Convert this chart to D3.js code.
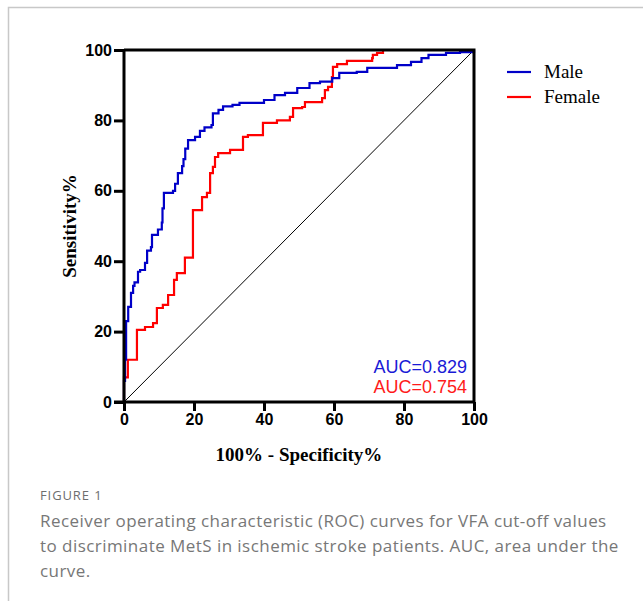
<!DOCTYPE html>
<html>
<head>
<meta charset="utf-8">
<script src="https://cdn.jsdelivr.net/npm/d3@7"></script>
<style>
  body { margin: 0; background: #fff; }
</style>
</head>
<body>
<script>
// ROC points: [1 - specificity %, sensitivity %]
const maleFpr = [0, 0, 0.3, 0.6, 1.2, 2, 2.6, 3, 4, 4.6, 6, 6.6, 7.7, 8, 9.7, 10.8, 11, 11.4, 14, 14.6, 15.4, 16.6, 17, 17.5, 18.3, 20.3, 21.7, 23, 25, 25.4, 27, 28.3, 31, 33, 40, 43, 46, 49.5, 53, 56, 59.5, 61.5, 66.5, 69.5, 78, 82, 85, 87, 92, 96, 100];
const maleTpr = [0, 6, 12, 23, 27, 31, 33, 34, 37, 37.5, 39.5, 43, 44, 47.5, 49, 51, 55, 59.4, 60, 62, 65, 67, 69, 72, 74.4, 75.3, 77, 78, 78.7, 82, 83, 84, 84.4, 85, 85.8, 87.2, 87.8, 89.2, 90.6, 91, 92, 93.5, 93.8, 94.9, 95.7, 96.6, 97.7, 98.6, 99.2, 99.4, 100];
const femaleFpr = [0, 0, 1.1, 3.7, 6, 8.3, 9.4, 11.1, 12.6, 14.3, 15.1, 17.4, 19.7, 22.3, 23.7, 24.6, 25.4, 26, 26.9, 30.3, 34, 35.4, 39.7, 43.7, 47.4, 48.3, 50.9, 51.7, 56.6, 57.4, 58.3, 59.4, 59.7, 60.9, 63.7, 70.9, 71.1, 72.3, 74, 100];
const femaleTpr = [0, 7, 12, 20.5, 21.3, 22.4, 26.7, 27.6, 30.4, 34.7, 36.6, 41, 54.5, 58.2, 59.4, 65, 66.8, 69.6, 70.7, 71.6, 75.3, 75.8, 79.3, 80, 81, 83.5, 83.8, 85.2, 86.3, 88.6, 89.5, 92.3, 95.2, 96, 96.9, 97.7, 98.6, 99.2, 100, 100];

const seriesNames = ["Male", "Female"];
const seriesColors = ["#0000c8", "#ff0000"];
const aucLabels = ["AUC=0.829", "AUC=0.754"];
const aucColors = ["#1a1ad6", "#ff1a1a"];
const ticks = [0, 20, 40, 60, 80, 100];

const captionTitle = "FIGURE 1";
const captionLines = [
  "Receiver operating characteristic (ROC) curves for VFA cut-off values",
  "to discriminate MetS in ischemic stroke patients. AUC, area under the",
  "curve."
];

const W = 643, H = 601;
const svg = d3.select("body").append("svg")
  .attr("width", W)
  .attr("height", H);

// page frame
svg.append("path")
  .attr("d", `M8.5,${H} V7.5 H${W}`)
  .attr("fill", "none")
  .attr("stroke", "#c8c8c8")
  .attr("stroke-width", 1.5);

const x = d3.scaleLinear().domain([0, 100]).range([124, 474]);
const y = d3.scaleLinear().domain([0, 100]).range([402, 50]);

// chance line
svg.append("line")
  .attr("x1", x(0)).attr("y1", y(0))
  .attr("x2", x(100)).attr("y2", y(100))
  .attr("stroke", "#000")
  .attr("stroke-width", 1);

// curves
const line = d3.line()
  .x(d => x(d[0]))
  .y(d => y(d[1]))
  .curve(d3.curveStepAfter);

const series = [
  d3.zip(maleFpr, maleTpr),
  d3.zip(femaleFpr, femaleTpr)
];

// draw female first so male sits on top near the origin
[1, 0].forEach(i => {
  svg.append("path")
    .datum(series[i])
    .attr("d", line)
    .attr("fill", "none")
    .attr("stroke", seriesColors[i])
    .attr("stroke-width", 2.2)
    .attr("stroke-linejoin", "miter");
});

// frame of plot (top and right)
svg.append("path")
  .attr("d", `M${x(0)},${y(100)} H${x(100)} V${y(0)}`)
  .attr("fill", "none")
  .attr("stroke", "#000")
  .attr("stroke-width", 3);

// axes
const xAxis = svg.append("g")
  .attr("transform", `translate(0,${y(0)})`)
  .call(d3.axisBottom(x).tickValues(ticks).tickSize(9).tickPadding(3));

const yAxis = svg.append("g")
  .attr("transform", `translate(${x(0)},0)`)
  .call(d3.axisLeft(y).tickValues(ticks).tickSize(10).tickPadding(2));

[xAxis, yAxis].forEach(g => {
  g.select(".domain")
    .attr("stroke-width", 3)
    .attr("d", g === xAxis ? `M${x(0) - 10},0 H${x(100)}` : `M0,${y(0)} V${y(100)}`);
  g.selectAll(".tick line").attr("stroke-width", 3);
  g.selectAll(".tick text")
    .attr("font-family", "Liberation Sans, Arial, sans-serif")
    .attr("font-weight", "bold")
    .attr("font-size", 16)
    .attr("fill", "#000");
});

// axis titles
svg.append("text")
  .attr("x", (x(0) + x(100)) / 2)
  .attr("y", 461)
  .attr("text-anchor", "middle")
  .attr("font-family", "Liberation Serif, Times New Roman, serif")
  .attr("font-weight", "bold")
  .attr("font-size", 19)
  .text("100% - Specificity%");

svg.append("text")
  .attr("transform", `translate(76,${(y(0) + y(100)) / 2}) rotate(-90)`)
  .attr("text-anchor", "middle")
  .attr("font-family", "Liberation Serif, Times New Roman, serif")
  .attr("font-weight", "bold")
  .attr("font-size", 19)
  .text("Sensitivity%");

// AUC labels
aucLabels.forEach((t, i) => {
  svg.append("text")
    .attr("x", 467)
    .attr("y", 373 + i * 20)
    .attr("text-anchor", "end")
    .attr("font-family", "Liberation Sans, Arial, sans-serif")
    .attr("font-size", 18)
    .attr("fill", aucColors[i])
    .text(t);
});

// legend
seriesNames.forEach((name, i) => {
  const ly = 72 + i * 25;
  svg.append("line")
    .attr("x1", 507).attr("x2", 531)
    .attr("y1", ly).attr("y2", ly)
    .attr("stroke", seriesColors[i])
    .attr("stroke-width", 2.2);
  svg.append("text")
    .attr("x", 544)
    .attr("y", ly + 6)
    .attr("font-family", "Liberation Serif, Times New Roman, serif")
    .attr("font-size", 19)
    .attr("fill", "#000")
    .text(name);
});

// caption
svg.append("text")
  .attr("x", 40)
  .attr("y", 500)
  .attr("font-family", "Open Sans, sans-serif")
  .attr("font-size", 13)
  .attr("letter-spacing", 0.9)
  .attr("fill", "#6e6e6e")
  .text(captionTitle);

captionLines.forEach((t, i) => {
  svg.append("text")
    .attr("x", 40)
    .attr("y", 527 + i * 25)
    .attr("font-family", "Open Sans, sans-serif")
    .attr("font-size", 17)
    .attr("letter-spacing", 0.45)
    .attr("fill", "#777")
    .text(t);
});
</script>
</body>
</html>
